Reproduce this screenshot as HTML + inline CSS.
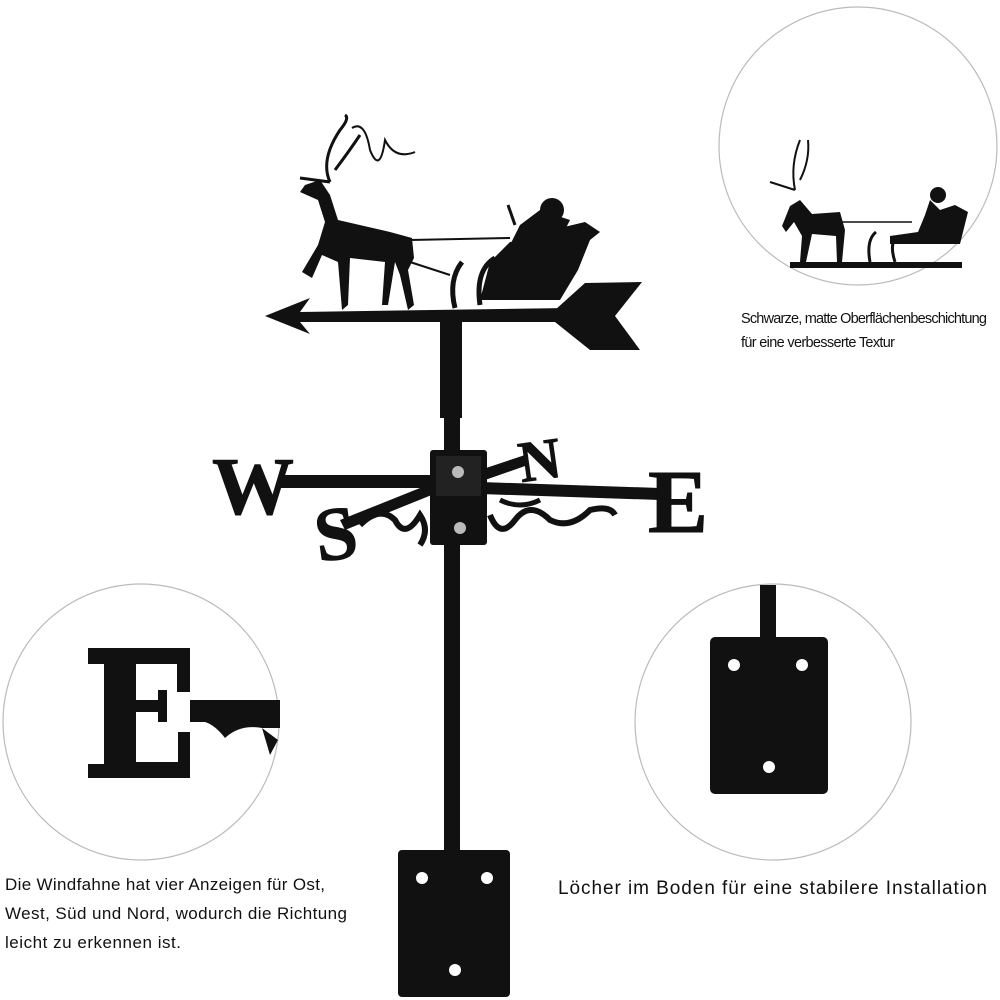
<!DOCTYPE html>
<html><head><meta charset="utf-8"><style>
html,body{margin:0;padding:0;background:#fff;}
svg{display:block}
text{font-family:"Liberation Sans",sans-serif;fill:#111}
</style></head><body>
<svg width="1000" height="1000" viewBox="0 0 1000 1000" xmlns="http://www.w3.org/2000/svg">
<rect width="1000" height="1000" fill="#fff"/>
<circle cx="858" cy="146" r="139" fill="#fff" stroke="#bbb" stroke-width="1.2"/>
<circle cx="141" cy="722" r="138" fill="#fff" stroke="#bbb" stroke-width="1.2"/>
<circle cx="773" cy="722" r="138" fill="#fff" stroke="#bbb" stroke-width="1.2"/>

<g fill="#111" stroke="#111">
 <rect x="790" y="262" width="172" height="6" stroke="none"/>
 <path d="M790 206 L800 200 L812 214 L840 212 L845 230 L842 262 L837 262 L836 236 L812 234 L806 262 L800 262 L802 236 L794 222 L786 232 L782 226 Z" stroke="none"/>
 <path d="M795 190 Q790 165 800 140 M800 180 Q810 160 808 140 M795 190 L770 182" fill="none" stroke-width="2"/>
 <path d="M840 222 L912 222" fill="none" stroke-width="1.5"/>
 <path d="M890 244 L960 244 L968 212 L955 205 L925 215 L918 232 L890 236 Z" stroke="none"/>
 <circle cx="938" cy="195" r="8" stroke="none"/>
 <path d="M930 200 L945 215 L935 230 L925 215 Z" stroke="none"/>
 <path d="M870 262 Q866 240 876 232 M895 262 Q888 240 900 236" fill="none" stroke-width="3"/>
</g>

<text x="741" y="323" font-size="14.5" textLength="246">Schwarze, matte Oberflächenbeschichtung</text>
<text x="741" y="347" font-size="14.5" textLength="154">für eine verbesserte Textur</text>

<g fill="#111">
 <path d="M88 648 L190 648 L190 692 L177 692 L177 664 L136 664 L136 700 L158 700 L158 690 L167 690 L167 722 L158 722 L158 712 L136 712 L136 762 L178 762 L178 732 L190 732 L190 778 L88 778 L88 764 L104 764 L104 664 L88 664 Z"/>
 <rect x="104" y="662" width="32" height="102"/>
 <path d="M190 700 L280 700 L280 728 L262 728 Q240 724 225 738 Q215 725 205 722 L190 722 Z"/>
 <path d="M262 728 L270 755 L278 740 Z" />
</g>

<rect x="710" y="637" width="118" height="157" rx="5" fill="#111"/>
<rect x="760" y="585" width="16" height="158" fill="#111"/>
<circle cx="734" cy="665" r="6" fill="#fff"/>
<circle cx="802" cy="665" r="6" fill="#fff"/>
<circle cx="769" cy="767" r="6" fill="#fff"/>

<text x="5" y="890" font-size="17" textLength="320">Die Windfahne hat vier Anzeigen für Ost,</text>
<text x="5" y="919" font-size="17" textLength="342">West, Süd und Nord, wodurch die Richtung</text>
<text x="5" y="948" font-size="17" textLength="176">leicht zu erkennen ist.</text>
<text x="558" y="894" font-size="19" textLength="429">Löcher im Boden für eine stabilere Installation</text>

<rect x="440" y="318" width="22" height="100" fill="#111"/>
<rect x="444" y="415" width="16" height="440" fill="#111"/>
<rect x="398" y="850" width="112" height="147" rx="4" fill="#111"/>
<circle cx="422" cy="878" r="6" fill="#fff"/>
<circle cx="487" cy="878" r="6" fill="#fff"/>
<circle cx="455" cy="970" r="6" fill="#fff"/>

<g fill="#111">
 <path d="M265 316 L310 298 L300 312 L570 308 L570 322 L300 322 L310 334 Z"/>
 <path d="M555 310 L585 283 L642 282 L615 316 L640 350 L590 350 L555 322 Z"/>
</g>
<g fill="#111" stroke="#111">
 <path d="M305 185 L320 180 L330 195 L338 220 L390 232 L412 238 L414 258 L408 270 L414 305 L408 310 L400 275 L395 262 L388 305 L382 305 L385 262 L350 258 L348 305 L342 310 L338 262 L322 255 L312 278 L302 272 L318 245 L325 222 L318 200 L300 192 Z" stroke="none"/>
 <path d="M330 182 Q320 160 340 130 Q350 118 345 115 M335 170 Q350 150 360 135 M330 182 L300 178" fill="none" stroke-width="3"/>
 <path d="M352 128 Q365 120 370 150 Q380 175 385 140 Q395 160 415 152" fill="none" stroke-width="2"/>
 <path d="M410 240 L510 238" fill="none" stroke-width="2"/>
 <path d="M410 262 L450 275" fill="none" stroke-width="2"/>
</g>
<g fill="#111" stroke="#111">
 <path d="M480 300 L560 300 L578 270 L590 240 L600 232 L585 222 L560 228 L540 240 L510 242 L490 262 Z" stroke="none"/>
 <circle cx="552" cy="210" r="12" stroke="none"/>
 <path d="M540 210 L520 225 L510 245 L560 240 L570 220 Z" stroke="none"/>
 <path d="M455 308 Q448 280 462 262 M480 305 Q475 270 495 258" fill="none" stroke-width="5"/>
 <path d="M515 225 L508 205" stroke-width="3"/>
</g>

<g fill="#111" stroke="#111">
 <path d="M280 475 L440 475 L440 488 L280 488 Z" stroke="none"/>
 <path d="M480 482 L660 488 L660 500 L480 494 Z" stroke="none"/>
 <path d="M340 520 L440 480 L444 490 L345 530 Z" stroke="none"/>
 <path d="M480 470 L525 455 L528 465 L485 480 Z" stroke="none"/>
 <text x="212" y="514" font-weight="bold" font-size="82" style="font-family:'Liberation Serif',serif">W</text>
 <text x="648" y="532" font-size="90" font-weight="bold" style="font-family:'Liberation Serif',serif">E</text>
 <text x="518" y="480" font-size="58" font-weight="bold" style="font-family:'Liberation Serif',serif" transform="rotate(-8 535 455)">N</text>
 <text x="314" y="560" font-size="76" font-weight="bold" style="font-family:'Liberation Serif',serif" transform="rotate(-8 330 530)">S</text>
 <path d="M360 525 Q380 505 395 520 Q405 540 420 515 Q430 530 420 545" fill="none" stroke-width="6"/>
 <path d="M490 515 Q500 540 515 520 Q530 500 550 520 Q570 530 590 510 Q610 505 615 515" fill="none" stroke-width="6"/>
 <path d="M500 500 Q520 510 540 500" fill="none" stroke-width="5"/>
</g>
<rect x="430" y="450" width="57" height="95" rx="3" fill="#111"/>
<rect x="436" y="456" width="45" height="40" fill="#222"/>
<circle cx="458" cy="472" r="6" fill="#bbb"/>
<circle cx="460" cy="528" r="6" fill="#bbb"/>
</svg>
</body></html>
